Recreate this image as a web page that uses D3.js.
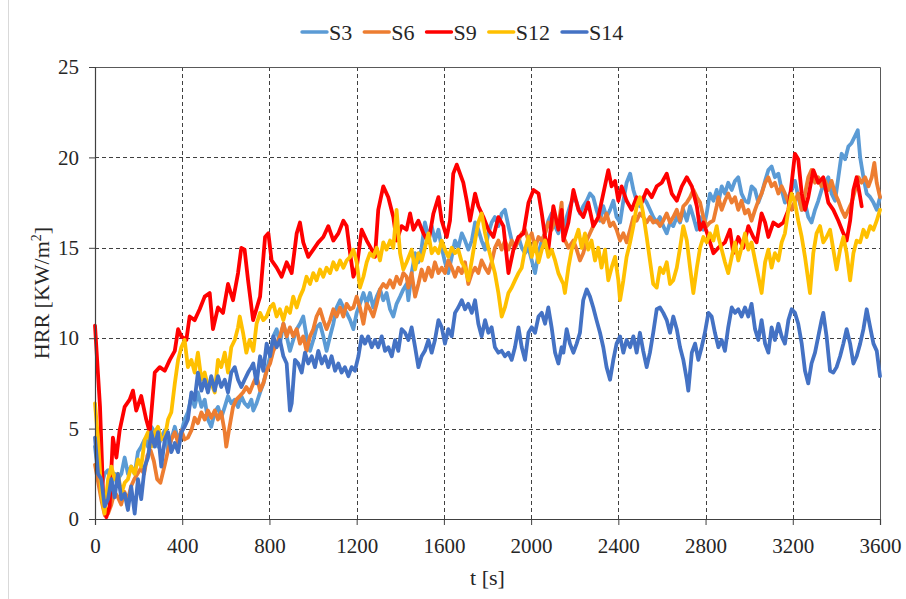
<!DOCTYPE html>
<html>
<head>
<meta charset="utf-8">
<script src="https://cdn.jsdelivr.net/npm/d3@7/dist/d3.min.js"></script>
<style>
  body { margin: 0; background: #ffffff; }
  svg { display: block; }
  text { font-family: "Liberation Serif", "Times New Roman", serif; fill: #262626; }
</style>
</head>
<body>
<svg id="chart" width="906" height="599"></svg>
<script>
// Axis ticks
const timeTicks = [0, 400, 800, 1200, 1600, 2000, 2400, 2800, 3200, 3600];
const hrrTicks = [0, 5, 10, 15, 20, 25];

// Series names and colours (legend order)
const seriesNames = ["S3", "S6", "S9", "S12", "S14"];
const seriesColors = ["#5B9BD5", "#ED7D31", "#FF0000", "#FFC000", "#4472C4"];

// HRR readings [t (s), HRR (kW/m²)]
const S3 = [[0,4.0],[14,2.5],[29,1.8],[44,2.5],[60,2.7],[75,1.8],[90,2.5],[105,2.2],[121,2.5],[136,3.4],[151,2.5],[166,2.9],[182,2.5],[197,3.7],[212,4.0],[228,4.4],[243,4.0],[258,5.1],[274,4.8],[289,4.0],[304,4.5],[320,4.9],[335,3.8],[350,4.4],[366,5.1],[381,4.4],[396,4.8],[411,5.5],[426,5.9],[442,6.8],[457,6.2],[472,7.0],[488,6.2],[503,6.6],[518,5.5],[533,5.1],[549,5.9],[564,6.2],[579,5.6],[595,6.2],[610,6.8],[625,6.4],[641,6.6],[656,6.2],[671,6.8],[686,6.4],[702,6.2],[717,6.6],[726,6.0],[741,6.4],[757,7.0],[772,7.5],[787,8.2],[803,9.0],[818,10.1],[833,10.5],[848,9.7],[864,10.8],[879,10.1],[894,9.3],[909,9.9],[925,10.5],[940,10.8],[955,11.2],[970,10.1],[986,9.3],[1001,9.9],[1016,10.6],[1032,10.8],[1047,10.1],[1062,9.3],[1078,10.1],[1093,10.8],[1108,11.7],[1124,12.1],[1139,11.7],[1154,11.4],[1170,11.0],[1185,10.5],[1200,11.4],[1215,11.9],[1231,12.5],[1246,11.9],[1261,12.5],[1276,11.7],[1292,12.3],[1307,12.7],[1322,12.1],[1337,12.5],[1353,11.6],[1368,11.2],[1383,11.9],[1399,12.3],[1414,12.7],[1429,13.0],[1437,12.1],[1452,13.6],[1468,14.7],[1483,14.2],[1498,15.0],[1513,16.4],[1529,15.6],[1544,16.2],[1559,15.4],[1575,16.0],[1590,15.0],[1605,14.2],[1620,13.6],[1636,14.5],[1651,15.4],[1666,15.0],[1682,15.8],[1697,15.4],[1712,14.9],[1728,15.4],[1743,16.4],[1758,16.0],[1773,15.4],[1789,14.9],[1804,15.8],[1819,16.4],[1834,16.7],[1850,16.2],[1865,16.9],[1880,17.1],[1896,16.2],[1911,15.4],[1926,15.0],[1942,15.6],[1957,15.0],[1972,14.7],[1988,15.0],[2003,14.3],[2018,13.6],[2034,14.7],[2049,15.4],[2064,15.8],[2079,16.5],[2094,16.9],[2110,16.2],[2125,15.8],[2140,16.5],[2148,16.0],[2163,16.7],[2178,17.3],[2194,17.8],[2209,17.5],[2224,16.9],[2239,17.3],[2255,17.6],[2270,18.0],[2285,17.8],[2300,17.1],[2316,16.5],[2331,17.3],[2346,16.7],[2362,17.1],[2377,17.6],[2392,16.7],[2408,16.4],[2423,17.6],[2438,18.6],[2454,19.1],[2469,18.2],[2484,17.6],[2499,17.3],[2514,17.8],[2530,17.5],[2545,17.1],[2560,16.7],[2576,16.4],[2591,16.7],[2606,16.2],[2622,15.8],[2637,16.4],[2652,16.2],[2668,16.7],[2683,16.4],[2698,17.1],[2714,16.5],[2729,17.3],[2744,16.7],[2760,16.0],[2775,16.7],[2790,16.0],[2805,16.9],[2820,18.0],[2836,17.6],[2851,18.2],[2859,17.5],[2874,18.4],[2889,18.0],[2904,18.6],[2920,18.2],[2935,18.7],[2950,18.9],[2965,18.0],[2981,17.6],[2996,17.5],[3011,18.4],[3027,18.2],[3042,17.5],[3057,18.0],[3073,18.7],[3088,19.3],[3103,19.5],[3118,18.9],[3134,19.1],[3149,18.2],[3164,17.5],[3180,17.8],[3195,18.2],[3210,18.7],[3225,17.8],[3241,17.1],[3256,17.5],[3271,16.7],[3286,16.4],[3302,17.1],[3317,17.6],[3332,18.2],[3348,18.6],[3363,18.9],[3378,18.0],[3394,17.6],[3409,18.9],[3424,20.2],[3440,19.9],[3455,20.6],[3470,20.8],[3486,21.2],[3498,21.5],[3509,20.0],[3524,18.9],[3539,18.0],[3555,17.8],[3570,17.5],[3585,17.1],[3600,17.8]];

const S6 = [[0,3.0],[15,2.0],[30,1.0],[45,0.2],[60,0.3],[75,0.8],[90,1.5],[105,1.2],[120,0.8],[135,1.5],[150,1.0],[165,1.8],[180,2.2],[195,2.5],[210,2.8],[225,2.5],[240,3.5],[255,3.8],[270,3.2],[285,2.2],[300,2.0],[320,3.0],[335,3.8],[350,4.4],[366,4.8],[381,4.2],[396,4.9],[411,4.4],[426,4.5],[442,4.9],[457,5.6],[472,5.3],[488,5.9],[503,5.5],[518,6.0],[533,5.6],[549,6.0],[564,5.5],[579,5.9],[595,4.8],[602,4.0],[617,5.1],[633,6.2],[648,6.6],[664,6.8],[679,7.0],[694,7.3],[709,7.0],[726,7.5],[741,7.9],[757,7.1],[772,7.5],[787,8.2],[803,8.6],[818,9.3],[833,9.7],[848,10.1],[864,10.8],[879,10.1],[894,10.6],[909,10.1],[925,10.5],[940,9.7],[955,10.1],[970,9.3],[986,10.1],[1001,10.5],[1016,11.2],[1032,11.6],[1047,11.0],[1062,10.5],[1078,11.0],[1093,11.6],[1108,11.2],[1124,11.7],[1139,11.2],[1154,11.9],[1170,11.6],[1185,11.7],[1200,12.3],[1215,11.7],[1231,10.8],[1246,11.9],[1261,11.6],[1276,11.2],[1292,11.9],[1307,12.7],[1322,13.0],[1337,12.8],[1353,13.2],[1368,12.8],[1383,13.4],[1399,13.0],[1414,13.6],[1429,13.4],[1437,12.8],[1452,13.6],[1468,12.3],[1483,13.0],[1498,13.8],[1513,13.2],[1529,13.9],[1544,13.4],[1559,14.2],[1575,13.6],[1590,13.9],[1605,13.6],[1620,14.3],[1636,13.9],[1651,13.4],[1666,13.9],[1682,13.6],[1697,14.2],[1712,13.0],[1728,13.6],[1743,13.9],[1758,13.6],[1773,14.3],[1789,13.9],[1804,13.6],[1819,14.2],[1834,15.0],[1850,15.4],[1865,14.9],[1880,15.4],[1896,14.9],[1911,15.4],[1926,15.0],[1942,15.4],[1957,15.8],[1972,16.0],[1988,15.4],[2003,15.8],[2018,15.0],[2034,15.6],[2049,15.4],[2064,15.8],[2079,16.4],[2094,16.0],[2110,16.5],[2125,16.2],[2140,17.5],[2148,15.6],[2171,15.0],[2194,15.4],[2209,14.9],[2224,14.3],[2239,14.7],[2255,15.4],[2270,15.8],[2285,16.2],[2300,16.5],[2316,16.7],[2331,16.4],[2346,16.9],[2362,16.2],[2377,16.4],[2392,16.0],[2408,15.4],[2423,15.8],[2438,15.3],[2454,16.0],[2469,16.7],[2484,16.5],[2499,16.9],[2514,16.7],[2530,16.4],[2545,16.7],[2560,16.4],[2576,16.5],[2591,16.2],[2606,16.5],[2622,16.9],[2637,16.4],[2652,16.7],[2668,17.1],[2683,16.5],[2698,17.3],[2714,17.5],[2729,17.8],[2744,18.2],[2760,17.8],[2775,17.5],[2790,16.7],[2805,16.2],[2820,16.4],[2836,16.5],[2851,17.3],[2859,17.8],[2874,17.1],[2889,17.6],[2904,18.0],[2920,17.5],[2935,17.8],[2950,17.1],[2965,17.6],[2981,16.9],[2996,17.1],[3011,16.5],[3027,17.1],[3042,17.6],[3057,18.0],[3073,18.6],[3088,18.9],[3103,18.4],[3118,18.6],[3134,18.0],[3149,18.4],[3164,18.0],[3180,17.5],[3195,17.1],[3210,17.6],[3225,18.0],[3241,17.1],[3256,18.0],[3271,18.9],[3286,19.3],[3302,18.6],[3317,18.9],[3332,18.4],[3348,18.7],[3363,18.2],[3378,18.7],[3394,18.0],[3409,17.6],[3424,17.1],[3440,16.7],[3455,17.1],[3470,17.5],[3486,18.2],[3501,18.9],[3516,18.6],[3532,18.9],[3547,18.4],[3562,18.9],[3574,19.7],[3585,18.6],[3600,17.8]];

const S9 = [[0,10.7],[23,6.2],[37,1.4],[52,0.1],[67,0.7],[82,4.5],[98,3.4],[113,4.9],[136,6.2],[159,6.6],[174,7.1],[189,6.0],[212,6.8],[235,5.5],[251,4.8],[274,8.1],[297,8.4],[320,8.2],[343,8.8],[366,9.3],[381,10.5],[396,10.1],[419,9.9],[434,11.2],[457,11.0],[480,11.6],[503,12.3],[526,12.5],[541,10.5],[564,11.7],[587,11.4],[610,13.0],[633,12.1],[656,13.6],[671,15.0],[686,14.9],[702,13.2],[725,11.0],[757,12.3],[780,15.6],[795,15.8],[810,14.3],[833,13.9],[856,13.4],[879,14.2],[902,13.6],[925,15.8],[940,16.4],[955,15.3],[978,14.5],[1001,14.9],[1024,15.3],[1047,15.6],[1070,16.2],[1093,15.4],[1116,15.8],[1139,16.5],[1154,16.2],[1170,14.7],[1185,13.4],[1200,13.9],[1223,16.0],[1246,15.4],[1269,14.9],[1284,14.5],[1299,17.1],[1322,18.4],[1345,17.8],[1368,16.7],[1383,15.4],[1406,16.2],[1429,16.0],[1445,16.9],[1460,16.0],[1483,16.5],[1506,15.8],[1529,15.3],[1552,16.9],[1575,17.8],[1590,16.5],[1613,15.6],[1628,16.5],[1643,19.1],[1659,19.6],[1674,19.1],[1689,18.6],[1705,17.6],[1720,16.5],[1743,18.0],[1758,17.3],[1781,16.7],[1804,16.0],[1827,15.6],[1850,16.7],[1873,16.2],[1896,13.6],[1919,14.9],[1942,15.6],[1965,15.8],[1988,17.5],[2011,18.2],[2034,18.0],[2049,16.9],[2064,15.6],[2079,14.9],[2102,17.3],[2125,16.0],[2140,17.1],[2148,15.4],[2171,16.4],[2194,18.2],[2217,17.1],[2239,16.7],[2262,17.5],[2285,16.2],[2308,16.7],[2331,18.0],[2354,19.3],[2369,18.4],[2385,18.7],[2400,17.6],[2415,18.4],[2438,17.6],[2461,17.1],[2484,17.8],[2507,17.5],[2530,18.2],[2553,17.8],[2576,18.4],[2599,18.6],[2622,19.1],[2645,18.0],[2668,17.6],[2691,18.4],[2714,18.9],[2737,18.4],[2760,17.3],[2775,16.0],[2790,16.4],[2813,15.6],[2836,14.7],[2859,15.0],[2889,15.3],[2912,16.0],[2927,14.7],[2950,15.6],[2973,15.0],[2996,16.2],[3019,15.6],[3034,15.3],[3057,16.9],[3073,16.4],[3088,15.6],[3111,16.4],[3134,16.2],[3157,16.4],[3180,17.1],[3195,18.6],[3210,20.2],[3225,19.9],[3241,18.0],[3256,17.1],[3271,17.8],[3294,19.3],[3317,18.6],[3340,18.9],[3363,17.5],[3386,17.1],[3409,16.5],[3432,15.8],[3447,15.4],[3463,16.5],[3478,18.2],[3493,18.9],[3509,17.8],[3516,17.3]];

const S12 = [[0,6.4],[14,4.4],[29,1.4],[44,0.3],[60,2.2],[75,2.9],[90,2.2],[105,2.5],[121,1.4],[136,2.0],[151,2.2],[166,2.9],[182,2.5],[197,3.3],[212,2.9],[228,4.4],[243,4.8],[258,4.0],[274,4.8],[289,5.1],[304,4.4],[320,4.5],[335,5.5],[350,5.9],[366,7.5],[381,8.8],[396,9.5],[411,9.9],[426,8.4],[442,8.8],[457,8.1],[472,9.2],[488,7.7],[503,8.1],[518,7.3],[533,7.5],[549,7.0],[564,8.8],[579,8.4],[595,9.2],[610,8.1],[625,9.5],[641,9.9],[656,10.6],[664,11.2],[679,10.3],[694,9.2],[709,9.9],[726,9.3],[741,10.8],[757,11.4],[772,11.0],[787,11.2],[803,11.7],[818,11.9],[833,11.2],[848,11.6],[864,11.0],[879,11.7],[894,11.4],[909,12.3],[925,11.7],[940,12.3],[955,12.7],[970,13.4],[986,13.0],[1001,13.6],[1016,13.2],[1032,13.8],[1047,13.4],[1062,13.9],[1078,13.6],[1093,14.2],[1108,13.8],[1124,14.3],[1139,13.9],[1154,14.3],[1170,14.5],[1185,14.9],[1200,14.2],[1215,12.8],[1231,13.4],[1246,14.2],[1261,14.7],[1276,14.5],[1292,15.0],[1307,14.3],[1322,15.3],[1337,14.9],[1353,15.4],[1368,15.0],[1383,17.1],[1399,14.7],[1414,13.8],[1429,14.2],[1452,14.9],[1468,13.8],[1483,14.7],[1498,14.3],[1513,15.0],[1529,15.8],[1544,14.7],[1559,15.0],[1575,14.7],[1590,15.4],[1605,14.9],[1620,14.5],[1636,15.0],[1651,14.7],[1666,14.9],[1682,14.2],[1697,13.9],[1712,13.2],[1728,14.3],[1743,15.4],[1758,16.4],[1773,16.9],[1789,15.8],[1804,15.0],[1819,14.3],[1834,13.6],[1850,12.5],[1865,11.2],[1880,11.7],[1896,12.5],[1911,12.8],[1926,13.2],[1942,13.6],[1957,13.9],[1972,14.9],[1988,15.6],[2003,14.5],[2018,15.3],[2034,14.2],[2049,14.9],[2064,15.4],[2079,14.5],[2094,14.9],[2110,14.3],[2125,13.6],[2140,13.2],[2148,13.0],[2155,12.5],[2171,13.9],[2186,14.9],[2201,15.4],[2217,16.0],[2232,15.0],[2247,15.8],[2262,14.9],[2277,15.4],[2293,14.3],[2308,15.0],[2323,13.9],[2339,14.9],[2354,13.2],[2369,13.9],[2385,14.5],[2400,13.2],[2408,12.1],[2423,13.2],[2438,14.5],[2454,15.3],[2469,16.2],[2484,17.3],[2499,17.8],[2514,16.9],[2530,15.6],[2545,14.3],[2560,13.0],[2576,12.8],[2591,13.9],[2606,13.6],[2622,14.2],[2637,13.0],[2652,13.2],[2668,13.9],[2683,15.0],[2698,16.2],[2714,15.4],[2729,13.9],[2744,12.5],[2760,13.9],[2775,15.0],[2790,15.6],[2805,15.3],[2820,15.8],[2836,15.4],[2851,16.2],[2859,15.6],[2874,14.9],[2889,14.2],[2904,13.6],[2920,14.5],[2935,15.3],[2950,14.3],[2965,15.0],[2981,15.8],[2996,14.9],[3011,15.3],[3027,14.3],[3042,13.4],[3057,12.5],[3073,14.2],[3088,14.9],[3103,13.9],[3118,14.7],[3134,14.3],[3149,15.3],[3164,15.8],[3180,17.1],[3195,18.0],[3210,17.5],[3225,16.5],[3241,15.6],[3256,14.5],[3271,13.2],[3279,12.5],[3294,14.7],[3309,15.8],[3325,16.2],[3340,15.3],[3355,15.6],[3371,16.0],[3386,14.9],[3401,13.8],[3417,14.9],[3432,15.6],[3447,14.7],[3463,13.2],[3478,14.7],[3493,15.4],[3509,15.3],[3524,16.0],[3539,15.6],[3555,16.2],[3570,16.0],[3585,16.5],[3600,17.1]];

const S14 = [[0,4.5],[14,2.5],[29,2.2],[44,0.7],[60,1.1],[75,2.2],[90,1.2],[105,2.5],[121,1.1],[136,1.4],[151,0.5],[166,1.8],[182,0.3],[197,2.2],[212,1.1],[228,2.9],[243,3.4],[258,4.8],[274,4.0],[289,4.8],[304,2.9],[320,4.4],[335,4.8],[350,3.7],[366,4.2],[381,3.7],[396,4.8],[411,5.1],[426,5.5],[442,7.0],[457,6.6],[472,8.1],[488,7.1],[503,7.7],[518,7.0],[533,7.9],[549,7.1],[564,7.9],[579,7.3],[595,7.7],[610,7.0],[625,8.1],[641,8.4],[656,7.7],[671,7.3],[686,7.7],[702,8.1],[717,8.4],[726,8.6],[741,7.5],[757,9.0],[772,8.2],[787,9.7],[803,9.0],[818,10.1],[833,9.5],[848,9.9],[864,9.0],[879,8.6],[894,6.0],[902,6.4],[917,8.8],[932,8.6],[948,8.1],[963,9.2],[978,8.6],[994,9.0],[1009,8.4],[1024,9.3],[1040,8.6],[1055,9.0],[1070,8.4],[1085,9.0],[1101,8.2],[1116,8.6],[1131,8.1],[1146,8.4],[1162,7.9],[1177,8.4],[1192,8.2],[1208,9.0],[1223,10.1],[1238,9.7],[1253,10.1],[1269,9.5],[1284,9.9],[1299,9.5],[1315,10.1],[1330,9.3],[1345,9.5],[1361,9.0],[1376,9.9],[1391,9.3],[1406,10.5],[1422,10.3],[1437,9.9],[1452,10.6],[1468,9.5],[1483,8.4],[1498,9.0],[1513,9.3],[1529,9.9],[1544,9.2],[1559,9.9],[1575,11.0],[1590,10.6],[1605,9.7],[1620,10.5],[1636,10.1],[1651,11.4],[1666,11.7],[1682,12.1],[1697,11.6],[1712,11.9],[1728,11.4],[1743,12.1],[1758,10.8],[1773,10.1],[1789,11.0],[1804,10.3],[1819,10.6],[1834,9.5],[1850,9.2],[1865,9.3],[1880,9.0],[1896,9.2],[1911,8.8],[1926,9.5],[1942,10.6],[1957,9.5],[1972,8.8],[1988,10.3],[2003,10.6],[2018,10.3],[2034,11.2],[2049,11.4],[2064,10.8],[2079,11.7],[2094,10.6],[2110,9.2],[2125,8.6],[2140,9.5],[2148,9.2],[2163,10.5],[2178,9.7],[2194,9.2],[2209,9.7],[2224,10.3],[2239,12.1],[2255,12.7],[2270,12.3],[2285,11.7],[2300,11.0],[2316,10.3],[2331,9.5],[2346,8.4],[2362,7.7],[2377,8.8],[2392,9.7],[2408,10.1],[2423,9.2],[2438,9.9],[2454,9.5],[2469,10.1],[2484,9.2],[2499,10.3],[2514,9.3],[2530,8.4],[2545,9.2],[2560,10.3],[2576,11.6],[2591,11.7],[2606,11.4],[2622,11.0],[2637,10.3],[2652,11.2],[2668,10.5],[2683,9.5],[2698,8.8],[2714,7.7],[2721,7.1],[2737,9.2],[2752,9.7],[2767,8.8],[2782,9.5],[2797,10.3],[2813,11.4],[2828,11.2],[2843,10.3],[2859,9.5],[2874,9.9],[2889,9.3],[2904,10.6],[2920,11.7],[2935,11.4],[2950,11.6],[2965,11.2],[2981,11.7],[2996,11.2],[3011,11.9],[3027,10.5],[3042,9.9],[3057,11.0],[3073,9.7],[3088,9.2],[3103,10.6],[3118,9.9],[3134,10.8],[3149,10.1],[3164,9.7],[3180,11.0],[3195,11.6],[3210,11.4],[3225,10.8],[3241,9.7],[3256,8.2],[3271,7.5],[3286,8.6],[3302,9.2],[3317,10.1],[3332,11.0],[3340,11.4],[3355,10.1],[3371,8.2],[3386,8.1],[3401,8.4],[3417,9.0],[3432,9.7],[3447,10.5],[3463,9.7],[3478,8.6],[3493,9.0],[3509,9.7],[3524,10.5],[3539,11.6],[3555,10.6],[3570,9.7],[3585,9.3],[3600,7.9]];

const seriesData = [S3, S6, S9, S12, S14];

// Layout
const plot = { left: 95, right: 880, top: 67, bottom: 519 };
const serif = '"Liberation Serif", "Times New Roman", serif';
const svg = d3.select("#chart");

const x = d3.scaleLinear().domain([0, 3600]).range([plot.left, plot.right]);
const y = d3.scaleLinear().domain([0, 25]).range([plot.bottom, plot.top]);

// Chart-area frame edge on the left
svg.append("line")
  .attr("x1", 8.5).attr("x2", 8.5).attr("y1", 0).attr("y2", 599)
  .attr("stroke", "#d9d9d9").attr("stroke-width", 1);

// Dashed gridlines
const grid = svg.append("g").attr("stroke", "#404040").attr("stroke-width", 1)
  .attr("stroke-dasharray", "4,3").attr("shape-rendering", "crispEdges");
grid.selectAll("line.v").data(timeTicks.slice(1, -1)).join("line")
  .attr("class", "v")
  .attr("x1", d => Math.round(x(d)) + 0.5).attr("x2", d => Math.round(x(d)) + 0.5)
  .attr("y1", plot.top).attr("y2", plot.bottom);
grid.selectAll("line.h").data(hrrTicks.slice(1, -1)).join("line")
  .attr("class", "h")
  .attr("x1", plot.left).attr("x2", plot.right)
  .attr("y1", d => Math.round(y(d)) + 0.5).attr("y2", d => Math.round(y(d)) + 0.5);

// Plot-area border (top and right)
svg.append("path")
  .attr("d", `M${plot.left},${plot.top + 0.5}H${plot.right + 0.5}V${plot.bottom}`)
  .attr("fill", "none").attr("stroke", "#595959").attr("stroke-width", 1);

// Series lines
const line = d3.line().x(d => x(d[0])).y(d => y(d[1]));
svg.append("g").selectAll("path").data(seriesData).join("path")
  .attr("d", d => line(d))
  .attr("fill", "none")
  .attr("stroke", (d, i) => seriesColors[i])
  .attr("stroke-width", 3.8)
  .attr("stroke-linejoin", "round")
  .attr("stroke-linecap", "round");

// Axes
const xAxis = svg.append("g")
  .attr("transform", `translate(0,${plot.bottom})`)
  .call(d3.axisBottom(x).tickValues(timeTicks).tickSize(6).tickPadding(13).tickFormat(d3.format("d")));
const yAxis = svg.append("g")
  .attr("transform", `translate(${plot.left},0)`)
  .call(d3.axisLeft(y).tickValues(hrrTicks).tickSize(6).tickPadding(10).tickFormat(d3.format("d")));

[xAxis, yAxis].forEach(a => {
  a.attr("font-family", serif).attr("font-size", 21);
  a.select(".domain").attr("stroke", "#404040").attr("stroke-width", 1.2);
  a.selectAll(".tick line").attr("stroke", "#404040");
  a.selectAll(".tick text")
    .attr("fill", "#262626")
    .style("font-family", serif)
    .style("font-size", "21px");
});

// Axis titles
svg.append("text")
  .attr("x", (plot.left + plot.right) / 2).attr("y", 585)
  .attr("text-anchor", "middle")
  .style("font-size", "22px")
  .text("t [s]");

const yTitle = svg.append("text")
  .attr("transform", `translate(49,${(plot.top + plot.bottom) / 2}) rotate(-90)`)
  .attr("text-anchor", "middle")
  .style("font-size", "22px");
yTitle.append("tspan").text("HRR [KW/m");
yTitle.append("tspan").attr("dy", -8).style("font-size", "14px").text("2");
yTitle.append("tspan").attr("dy", 8).text("]");

// Legend
const legend = svg.append("g").attr("transform", "translate(302,32)");
let lx = 0;
seriesNames.forEach((name, i) => {
  const g = legend.append("g").attr("transform", `translate(${lx},0)`);
  g.append("line").attr("x1", 0).attr("x2", 25).attr("y1", 0).attr("y2", 0)
    .attr("stroke", seriesColors[i]).attr("stroke-width", 3.4).attr("stroke-linecap", "round");
  const t = g.append("text").attr("x", 27).attr("y", 7.5)
    .style("font-size", "22px").text(name);
  lx += 27 + t.node().getComputedTextLength() + 12;
});
</script>
</body>
</html>
